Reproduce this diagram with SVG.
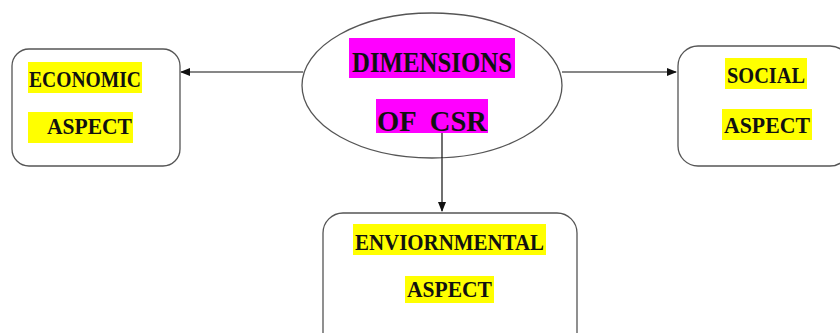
<svg xmlns="http://www.w3.org/2000/svg" width="840" height="333" viewBox="0 0 840 333">
<style>
.box{fill:#fff;stroke:#555;stroke-width:1.3}
.hl{fill:#ffff00}
.mg{fill:#ff00ff}
.t{font-family:"Liberation Serif","DejaVu Serif",serif;font-weight:bold;fill:#111}
.s{font-size:23px}
.b{font-size:29px}
.ln{stroke:#111;stroke-width:1.2;fill:none}
</style>
<defs>
<marker id="ah" markerWidth="10" markerHeight="8" refX="9" refY="4" orient="auto" markerUnits="userSpaceOnUse">
<path d="M0,0 L10,4 L0,8 Z" fill="#111"/>
</marker>
</defs>
<rect width="840" height="333" fill="#fff"/>
<g id="connectors">
<line class="ln" x1="303" y1="72" x2="181" y2="72" marker-end="url(#ah)"/>
<line class="ln" x1="562" y1="72" x2="676" y2="72" marker-end="url(#ah)"/>
<line class="ln" x1="442" y1="133" x2="442" y2="211" marker-end="url(#ah)"/>
</g>
<g id="economic">
<rect class="box" x="12" y="49" width="168" height="117" rx="17"/>
<rect class="hl" x="28" y="62" width="114" height="31"/>
<rect class="hl" x="28" y="112" width="105" height="31"/>
<text class="t s" x="29" y="87" textLength="112" lengthAdjust="spacingAndGlyphs">ECONOMIC</text>
<text class="t s" x="47" y="134" textLength="85" lengthAdjust="spacingAndGlyphs">ASPECT</text>
</g>
<g id="center">
<ellipse cx="432" cy="85.5" rx="130" ry="72.5" fill="#fff" stroke="#555" stroke-width="1.3"/>
<rect class="mg" x="349" y="38" width="166" height="40"/>
<rect class="mg" x="376" y="99" width="112" height="34"/>
<text class="t b" x="352" y="72" textLength="160" lengthAdjust="spacingAndGlyphs">DIMENSIONS</text>
<text class="t b" x="377" y="131" textLength="110" lengthAdjust="spacingAndGlyphs" xml:space="preserve">OF  CSR</text>
</g>
<line class="ln" x1="442" y1="133" x2="442" y2="158"/>
<g id="social">
<rect class="box" x="678" y="46" width="172" height="120" rx="20"/>
<rect class="hl" x="725" y="58" width="82" height="31"/>
<rect class="hl" x="722" y="109" width="90" height="31"/>
<text class="t s" x="727" y="83" textLength="78" lengthAdjust="spacingAndGlyphs">SOCIAL</text>
<text class="t s" x="724" y="133" textLength="86" lengthAdjust="spacingAndGlyphs">ASPECT</text>
</g>
<g id="environmental">
<rect class="box" x="323" y="213" width="254" height="140" rx="20"/>
<rect class="hl" x="353" y="224" width="193" height="31"/>
<rect class="hl" x="405" y="276" width="89" height="27"/>
<text class="t s" x="355" y="250" textLength="189" lengthAdjust="spacingAndGlyphs">ENVIORNMENTAL</text>
<text class="t s" x="407" y="297" textLength="85" lengthAdjust="spacingAndGlyphs">ASPECT</text>
</g>
</svg>
